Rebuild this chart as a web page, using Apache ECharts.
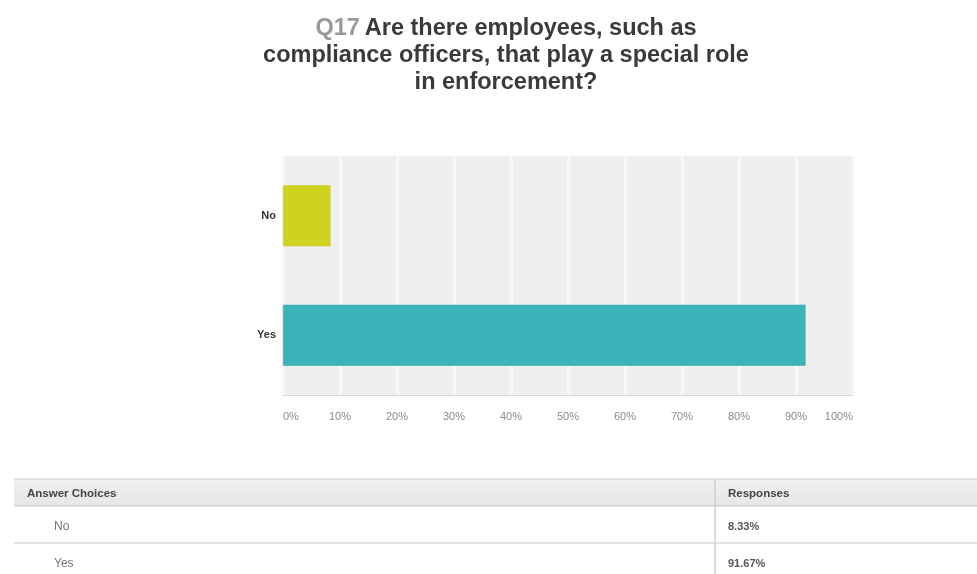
<!DOCTYPE html>
<html>
<head>
<meta charset="utf-8">
<script src="https://cdn.jsdelivr.net/npm/echarts@6/dist/echarts.min.js"></script>
<style>
  html, body { margin: 0; padding: 0; background: #fff; }
  #chart { width: 977px; height: 574px; }
</style>
</head>
<body>
<div id="chart"></div>
<script>
// Survey question and answers
const questionId = 'Q17';
const questionLines = [
  'Are there employees, such as',
  'compliance officers, that play a special role',
  'in enforcement?'
];
const categories = ['No', 'Yes'];
const responses = [8.33, 91.67];
const barColors = ['#cfd31f', '#3bb4b9'];
const tickLabels = ['0%', '10%', '20%', '30%', '40%', '50%', '60%', '70%', '80%', '90%', '100%'];
const tableHeaders = ['Answer Choices', 'Responses'];

const FONT = '"Liberation Sans", Arial, Helvetica, sans-serif';
const chart = echarts.init(document.getElementById('chart'), null, { renderer: 'canvas' });

// Summary table under the chart
const tableTop = 479, headerH = 27, rowH = 37, tableLeft = 14, colX = 715;
const table = [];
table.push({
  type: 'rect', shape: { x: tableLeft, y: tableTop, width: 977 - tableLeft, height: headerH },
  style: {
    fill: new echarts.graphic.LinearGradient(0, 0, 0, 1, [
      { offset: 0, color: '#f1f1f1' }, { offset: 1, color: '#e6e6e6' }
    ])
  }, silent: true
});
table.push({ type: 'line', shape: { x1: tableLeft, y1: tableTop, x2: 977, y2: tableTop }, style: { stroke: '#cfcfcf', lineWidth: 1 } });
table.push({ type: 'line', shape: { x1: tableLeft, y1: tableTop + headerH, x2: 977, y2: tableTop + headerH }, style: { stroke: '#c8c8c8', lineWidth: 1 } });
table.push({ type: 'line', shape: { x1: tableLeft, y1: tableTop + headerH + rowH, x2: 977, y2: tableTop + headerH + rowH }, style: { stroke: '#c8c8c8', lineWidth: 1 } });
table.push({ type: 'line', shape: { x1: colX, y1: tableTop, x2: colX, y2: 574 }, style: { stroke: '#cfcfcf', lineWidth: 1.5 } });
table.push({ type: 'text', x: 27, y: tableTop + 15, style: { text: tableHeaders[0], fill: '#444', font: 'bold 11.5px ' + FONT, textVerticalAlign: 'middle' } });
table.push({ type: 'text', x: 728, y: tableTop + 15, style: { text: tableHeaders[1], fill: '#444', font: 'bold 11.5px ' + FONT, textVerticalAlign: 'middle' } });
categories.forEach(function (c, i) {
  const cy = tableTop + headerH + rowH * i + 21;
  table.push({ type: 'text', x: 54, y: cy, style: { text: c, fill: '#777', font: '12px ' + FONT, textVerticalAlign: 'middle' } });
  table.push({ type: 'text', x: 728, y: cy, style: { text: responses[i].toFixed(2) + '%', fill: '#555', font: 'bold 11px ' + FONT, textVerticalAlign: 'middle' } });
});

chart.setOption({
  backgroundColor: '#ffffff',
  animation: false,
  title: {
    text: '{q|' + questionId + '} {t|' + questionLines[0] + '}\n{t|' + questionLines[1] + '}\n{t|' + questionLines[2] + '}',
    left: 501,
    top: 10,
    textAlign: 'center',
    textStyle: {
      align: 'center',
      rich: {
        q: { color: '#9a9a9a', fontSize: 23.5, fontFamily: FONT, lineHeight: 27, align: 'center' },
        t: { color: '#3a3a3a', fontSize: 23.5, fontWeight: 'bold', fontFamily: FONT, lineHeight: 27, align: 'center' }
      }
    }
  },
  grid: {
    left: 283, right: 124, top: 156, bottom: 179,
    show: true, backgroundColor: '#efefef', borderWidth: 0
  },
  xAxis: {
    type: 'value', min: 0, max: 100, interval: 10,
    axisLine: { show: true, lineStyle: { color: '#d6d6d6', width: 1 } },
    axisTick: { show: false },
    splitLine: { show: true, lineStyle: { color: '#f8f8f8', width: 3 } },
    axisLabel: {
      margin: 16, color: '#8a8a8a', fontSize: 11, fontFamily: FONT,
      alignMinLabel: 'left', alignMaxLabel: 'right',
      formatter: function (v) { return tickLabels[Math.round(v / 10)]; }
    }
  },
  yAxis: {
    type: 'category', data: categories, inverse: true,
    axisLine: { show: false }, axisTick: { show: false },
    axisLabel: { margin: 7, color: '#333', fontSize: 11, fontWeight: 'bold', fontFamily: FONT }
  },
  series: [{
    type: 'bar',
    barWidth: 61,
    data: responses.map(function (v, i) {
      return { value: v, itemStyle: { color: barColors[i], borderColor: i === 1 ? '#2fa3a8' : '#c4c81a', borderWidth: 0.5 } };
    })
  }],
  graphic: table
});
</script>
</body>
</html>
